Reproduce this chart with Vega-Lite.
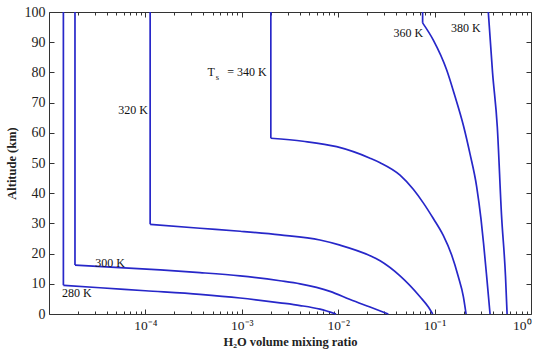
{
  "$schema": "https://vega.github.io/schema/vega-lite/v6.json",
  "width": 482,
  "height": 302,
  "autosize": "none",
  "padding": {"left": 49, "top": 12, "right": 19, "bottom": 47},
  "background": "white",
  "config": {"view": {"stroke": null}, "font": "Liberation Serif"},
  "datasets": {
    "vert": [
      {"T": "280 K", "x": 1.41e-5, "alt": 100},
      {"T": "280 K", "x": 1.41e-5, "alt": 9.5},
      {"T": "300 K", "x": 1.86e-5, "alt": 100},
      {"T": "300 K", "x": 1.86e-5, "alt": 16.2},
      {"T": "320 K", "x": 1.12e-4, "alt": 100},
      {"T": "320 K", "x": 1.12e-4, "alt": 29.7},
      {"T": "340 K", "x": 2.0e-3, "alt": 100},
      {"T": "340 K", "x": 2.0e-3, "alt": 58.2},
      {"T": "360 K", "x": 0.0751, "alt": 100},
      {"T": "360 K", "x": 0.0751, "alt": 96.4}
    ],
    "curves": [
      {"T": "280 K", "x": 1.41e-5, "alt": 9.5},
      {"T": "280 K", "x": 3.38e-5, "alt": 8.7},
      {"T": "280 K", "x": 1e-4, "alt": 7.7},
      {"T": "280 K", "x": 3.68e-4, "alt": 6.5},
      {"T": "280 K", "x": 9.6e-4, "alt": 5.3},
      {"T": "280 K", "x": 2.49e-3, "alt": 3.7},
      {"T": "280 K", "x": 4.02e-3, "alt": 2.8},
      {"T": "280 K", "x": 6.47e-3, "alt": 1.6},
      {"T": "280 K", "x": 9.5e-3, "alt": 0},
      {"T": "300 K", "x": 1.86e-5, "alt": 16.2},
      {"T": "300 K", "x": 1.42e-4, "alt": 14.6},
      {"T": "300 K", "x": 3.68e-4, "alt": 13.7},
      {"T": "300 K", "x": 9.6e-4, "alt": 12.6},
      {"T": "300 K", "x": 2.49e-3, "alt": 11.0},
      {"T": "300 K", "x": 4.02e-3, "alt": 10.0},
      {"T": "300 K", "x": 8.22e-3, "alt": 7.5},
      {"T": "300 K", "x": 1.33e-2, "alt": 4.8},
      {"T": "300 K", "x": 2.14e-2, "alt": 2.3},
      {"T": "300 K", "x": 3.31e-2, "alt": 0},
      {"T": "320 K", "x": 1.12e-4, "alt": 29.7},
      {"T": "320 K", "x": 3.68e-4, "alt": 28.4},
      {"T": "320 K", "x": 9.6e-4, "alt": 27.4},
      {"T": "320 K", "x": 2.49e-3, "alt": 26.2},
      {"T": "320 K", "x": 6.47e-3, "alt": 24.5},
      {"T": "320 K", "x": 1.045e-2, "alt": 22.8},
      {"T": "320 K", "x": 2.14e-2, "alt": 19.3},
      {"T": "320 K", "x": 2.72e-2, "alt": 17.6},
      {"T": "320 K", "x": 4.38e-2, "alt": 12.6},
      {"T": "320 K", "x": 7.06e-2, "alt": 5.7},
      {"T": "320 K", "x": 8.62e-2, "alt": 2.3},
      {"T": "320 K", "x": 9.55e-2, "alt": 0},
      {"T": "340 K", "x": 2.0e-3, "alt": 58.2},
      {"T": "340 K", "x": 4.31e-3, "alt": 57.2},
      {"T": "340 K", "x": 9.64e-3, "alt": 55.4},
      {"T": "340 K", "x": 2.14e-2, "alt": 51.6},
      {"T": "340 K", "x": 2.72e-2, "alt": 50.1},
      {"T": "340 K", "x": 4.38e-2, "alt": 46.0},
      {"T": "340 K", "x": 6.01e-2, "alt": 41.3},
      {"T": "340 K", "x": 7.63e-2, "alt": 36.8},
      {"T": "340 K", "x": 9.7e-2, "alt": 31.6},
      {"T": "340 K", "x": 0.123, "alt": 26.0},
      {"T": "340 K", "x": 0.15, "alt": 19.6},
      {"T": "340 K", "x": 0.176, "alt": 12.4},
      {"T": "340 K", "x": 0.199, "alt": 5.7},
      {"T": "340 K", "x": 0.212, "alt": 0},
      {"T": "360 K", "x": 0.0751, "alt": 96.4},
      {"T": "360 K", "x": 0.097, "alt": 90.7},
      {"T": "360 K", "x": 0.1335, "alt": 80.8},
      {"T": "360 K", "x": 0.163, "alt": 72.0},
      {"T": "360 K", "x": 0.199, "alt": 62.4},
      {"T": "360 K", "x": 0.233, "alt": 53.0},
      {"T": "360 K", "x": 0.273, "alt": 42.2},
      {"T": "360 K", "x": 0.303, "alt": 31.4},
      {"T": "360 K", "x": 0.322, "alt": 23.4},
      {"T": "360 K", "x": 0.347, "alt": 12.4},
      {"T": "360 K", "x": 0.376, "alt": 0},
      {"T": "380 K", "x": 0.3606, "alt": 100},
      {"T": "380 K", "x": 0.399, "alt": 80},
      {"T": "380 K", "x": 0.447, "alt": 62},
      {"T": "380 K", "x": 0.494, "alt": 33},
      {"T": "380 K", "x": 0.544, "alt": 12.4},
      {"T": "380 K", "x": 0.565, "alt": 0}
    ],
    "labels": [
      {"label": "320 K", "x": 7.43e-5, "alt": 67.5},
      {"label": "300 K", "x": 4.3e-5, "alt": 17.0},
      {"label": "280 K", "x": 1.94e-5, "alt": 7.05},
      {"label": "360 K", "x": 0.0533, "alt": 92.9},
      {"label": "380 K", "x": 0.211, "alt": 94.8},
      {"label": "T", "x": 4.8e-4, "alt": 80.2},
      {"label": "= 340 K", "x": 1.13e-3, "alt": 80.2}
    ],
    "sub": [
      {"label": "s", "x": 5.6e-4, "alt": 78.6}
    ]
  },
  "layer": [
    {
      "data": {"name": "curves"},
      "mark": {"type": "line", "color": "#2727c9", "strokeWidth": 1.7, "interpolate": "monotone"},
      "encoding": {
        "x": {
          "field": "x", "type": "quantitative",
          "scale": {"type": "log", "domain": [1e-5, 1], "nice": false},
          "axis": {
            "orient": "bottom", "values": [1e-4, 1e-3, 1e-2, 1e-1, 1],
            "labelExpr": "'10' + (datum.value >= 1 ? '⁰' : '⁻' + ['⁰','¹','²','³','⁴','⁵'][round(-log(datum.value)/LN10)])",
            "tickSize": -5, "labelPadding": 9, "grid": false,
            "domainColor": "#333", "tickColor": "#333", "labelColor": "#222",
            "labelFont": "Liberation Serif", "labelFontSize": 13.5,
            "title": "H₂O volume mixing ratio", "titleFont": "Liberation Serif",
            "titleFontWeight": "bold", "titleFontSize": 12.5, "titleColor": "#222", "titlePadding": 4
          }
        },
        "y": {
          "field": "alt", "type": "quantitative",
          "scale": {"domain": [0, 100], "nice": false, "zero": false},
          "axis": {
            "orient": "left", "values": [0, 10, 20, 30, 40, 50, 60, 70, 80, 90, 100],
            "tickSize": -5, "labelPadding": 9, "grid": false,
            "domainColor": "#333", "tickColor": "#333", "labelColor": "#222",
            "labelFont": "Liberation Serif", "labelFontSize": 14,
            "title": "Altitude (km)", "titleFont": "Liberation Serif",
            "titleFontWeight": "bold", "titleFontSize": 12.5, "titleColor": "#222", "titlePadding": 6
          }
        },
        "detail": {"field": "T"},
        "order": {"value": null}
      }
    },
    {
      "data": {"name": "vert"},
      "mark": {"type": "line", "color": "#2727c9", "strokeWidth": 1.7},
      "encoding": {
        "x": {
          "field": "x", "type": "quantitative",
          "axis": {"orient": "top", "values": [1e-4, 1e-3, 1e-2, 1e-1, 1], "labels": false, "tickSize": -5,
            "title": null, "grid": false, "domainColor": "#333", "tickColor": "#333"}
        },
        "y": {
          "field": "alt", "type": "quantitative",
          "axis": {"orient": "right", "values": [10, 20, 30, 40, 50, 60, 70, 80, 90], "labels": false, "tickSize": -5,
            "title": null, "grid": false, "domainColor": "#333", "tickColor": "#333"}
        },
        "detail": {"field": "T"},
        "order": {"value": null}
      }
    },
    {
      "data": {"name": "vert"},
      "mark": {"type": "line", "strokeOpacity": 0},
      "encoding": {
        "x": {
          "field": "x", "type": "quantitative",
          "axis": {"orient": "bottom", "labels": false, "tickSize": -3, "domain": false, "title": null, "grid": false, "tickColor": "#333",
            "values": [2e-5,3e-5,4e-5,5e-5,6e-5,7e-5,8e-5,9e-5,2e-4,3e-4,4e-4,5e-4,6e-4,7e-4,8e-4,9e-4,2e-3,3e-3,4e-3,5e-3,6e-3,7e-3,8e-3,9e-3,2e-2,3e-2,4e-2,5e-2,6e-2,7e-2,8e-2,9e-2,0.2,0.3,0.4,0.5,0.6,0.7,0.8,0.9]}
        },
        "y": {"field": "alt", "type": "quantitative", "axis": null},
        "detail": {"field": "T"},
        "order": {"value": null}
      }
    },
    {
      "data": {"name": "vert"},
      "mark": {"type": "line", "strokeOpacity": 0},
      "encoding": {
        "x": {
          "field": "x", "type": "quantitative",
          "axis": {"orient": "top", "labels": false, "tickSize": -3, "domain": false, "title": null, "grid": false, "tickColor": "#333",
            "values": [2e-5,3e-5,4e-5,5e-5,6e-5,7e-5,8e-5,9e-5,2e-4,3e-4,4e-4,5e-4,6e-4,7e-4,8e-4,9e-4,2e-3,3e-3,4e-3,5e-3,6e-3,7e-3,8e-3,9e-3,2e-2,3e-2,4e-2,5e-2,6e-2,7e-2,8e-2,9e-2,0.2,0.3,0.4,0.5,0.6,0.7,0.8,0.9]}
        },
        "y": {"field": "alt", "type": "quantitative", "axis": null},
        "detail": {"field": "T"},
        "order": {"value": null}
      }
    },
    {
      "data": {"name": "labels"},
      "mark": {"type": "text", "font": "Liberation Serif", "fontSize": 12, "color": "#111", "align": "center", "baseline": "middle"},
      "encoding": {
        "x": {"field": "x", "type": "quantitative", "axis": null},
        "y": {"field": "alt", "type": "quantitative", "axis": null},
        "text": {"field": "label"}
      }
    },
    {
      "data": {"name": "sub"},
      "mark": {"type": "text", "font": "Liberation Serif", "fontSize": 8.5, "color": "#111", "align": "center", "baseline": "middle"},
      "encoding": {
        "x": {"field": "x", "type": "quantitative", "axis": null},
        "y": {"field": "alt", "type": "quantitative", "axis": null},
        "text": {"field": "label"}
      }
    }
  ],
  "resolve": {"axis": {"x": "independent", "y": "independent"}}
}
